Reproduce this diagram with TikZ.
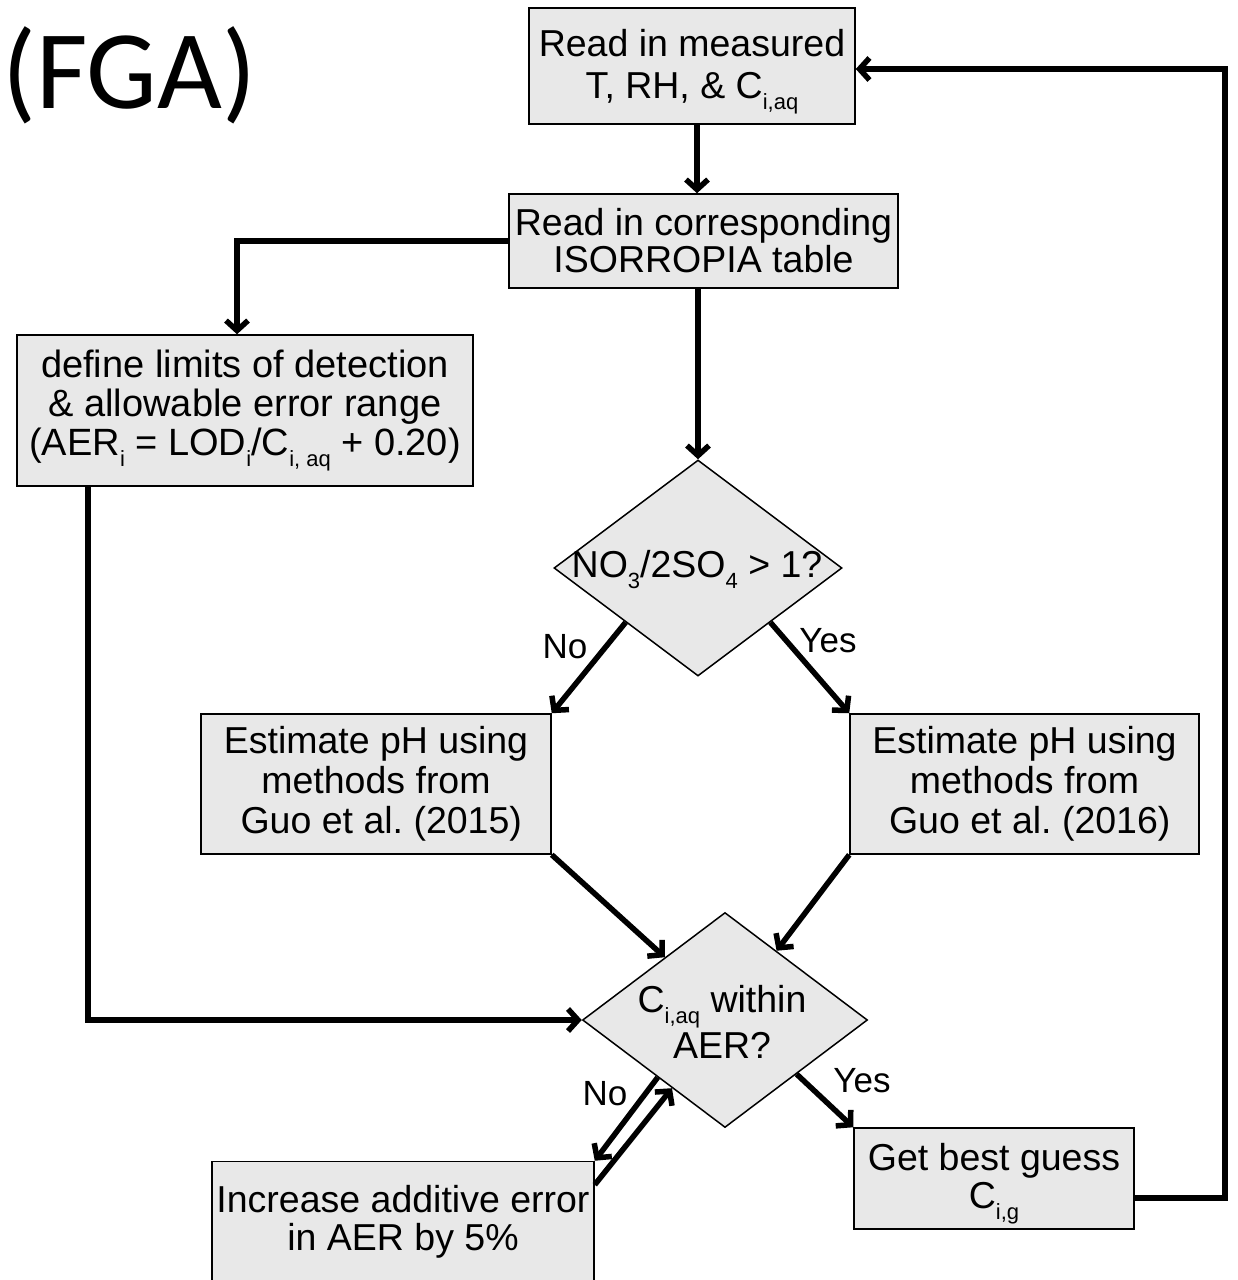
\documentclass[tikz,border=0pt]{standalone}
\usepackage{fontspec}
\setmainfont{Liberation Sans}
\newfontfamily\calfont{Carlito}
\usetikzlibrary{arrows.meta,shapes.geometric,calc}
\definecolor{boxfill}{RGB}{232,232,232}
\newcommand{\mysub}[1]{\raisebox{-11pt}{\fontsize{22}{22}\selectfont #1}}
\frenchspacing
\begin{document}
\begin{tikzpicture}[x=1pt,y=-1pt,
  box/.style={draw=black, line width=1.5pt, fill=boxfill, rectangle, inner sep=0pt, align=center, font=\fontsize{37.5}{39}\selectfont},
  dia/.style={draw=black, line width=1.5pt, fill=boxfill, diamond, inner sep=0pt},
  txt/.style={align=center, inner sep=0pt, font=\fontsize{37.5}{39}\selectfont},
  conn/.style={line width=5.5pt, -{Straight Barb[length=10pt,width=22pt]}},
  lbl/.style={font=\fontsize{35}{40}\selectfont, inner sep=0pt, anchor=base}]
\useasboundingbox (0,0) rectangle (1238,1280);

\node[font=\calfont\fontsize{112}{112}\selectfont, anchor=base west, inner sep=0pt] (title) at (2,108) {(FGA)};

\node[box, minimum width=326pt, minimum height=116pt, text depth=4pt, font=\fontsize{37.5}{42}\selectfont] (b1) at (692,66) {Read in measured\\T, RH, \& C\mysub{i,aq}};
\node[box, minimum width=389pt, minimum height=94pt, font=\fontsize{37.5}{37}\selectfont] (b2) at (703.5,241) {Read in corresponding\\ISORROPIA table};
\node[box, minimum width=456pt, minimum height=151pt, font=\fontsize{38}{39}\selectfont] (b3) at (245,410.5) {define limits of detection\\\& allowable error range\\(AER\mysub{i} = LOD\mysub{i}/C\mysub{i, aq} + 0.20)};

\node[dia, minimum width=288pt, minimum height=216pt] (d1) at (698,568) {};
\node[txt] (t1) at (697,570) {NO\mysub{3}/2SO\mysub{4} > 1?};

\node[box, minimum width=350pt, minimum height=140pt, font=\fontsize{37.5}{40}\selectfont] (b4) at (376,784) {Estimate pH using\\methods from\\\hspace*{0.28em}Guo et al. (2015)};
\node[box, minimum width=349pt, minimum height=140pt, font=\fontsize{37.5}{40}\selectfont] (b5) at (1024.5,784) {Estimate pH using\\methods from\\\hspace*{0.28em}Guo et al. (2016)};

\node[dia, minimum width=285pt, minimum height=215pt] (d2) at (725,1020) {};
\node[txt, font=\fontsize{37.5}{46}\selectfont] (t2) at (722,1022) {C\mysub{i,aq} within\\AER?};

\node[box, minimum width=382pt, minimum height=120pt, font=\fontsize{37.5}{38}\selectfont] (b6) at (403,1221.5) {Increase additive error\\in AER by 5\%};
\node[box, minimum width=280pt, minimum height=101pt, text depth=6pt, font=\fontsize{37.5}{38}\selectfont] (b7) at (994,1178.5) {Get best guess\\C\mysub{i,g}};

\node[lbl] (no1) at (565,658) {No};
\node[lbl] (yes1) at (828,652) {Yes};
\node[lbl] (no2) at (605,1105) {No};
\node[lbl] (yes2) at (862,1092) {Yes};

\coordinate (c88) at (88,0);
\coordinate (rr) at (1225,0);
\coordinate (s7) at ([yshift=-19.5pt]b7.east);
\coordinate (e1) at ([yshift=-3pt]b1.east);

\draw[conn] ([xshift=5pt]b1.south) -- ([xshift=5pt]b1.south |- b2.north);
\draw[conn] (b2.west) -| ([xshift=-8pt]b3.north);
\draw[conn] (d1.north |- b2.south) -- (d1.north);
\draw[conn] (d1.south west) -- (b4.north east);
\draw[conn] (d1.south east) -- (b5.north west);
\draw[conn] (b4.south east) -- ($(d2.west)!0.58!(d2.north)$);
\draw[conn] (b5.south west) -- ($(d2.north)!0.36!(d2.east)$);
\draw[conn] (b3.south -| c88) |- (d2.west);
\draw[conn] ($(d2.west)!0.53!(d2.south)$) -- (b6.north east);
\draw[conn] ([yshift=-24pt]b6.north east) -- ($(d2.west)!0.63!(d2.south)$);
\draw[conn] (d2.south east) -- (b7.north west);
\draw[conn] (s7) -- (s7 -| rr) -- (e1 -| rr) -- (e1);
\end{tikzpicture}
\end{document}
